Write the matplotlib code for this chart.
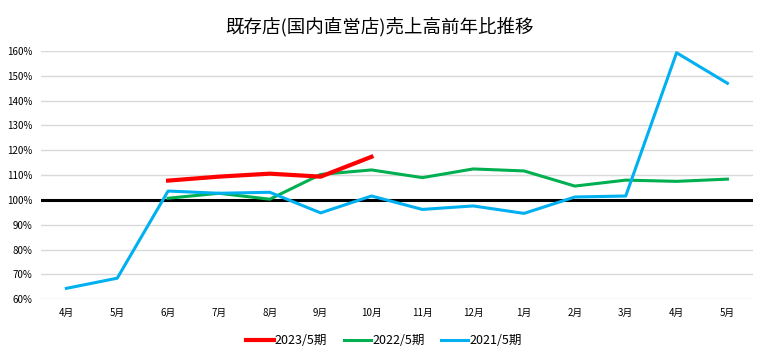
import numpy as np
import matplotlib.pyplot as plt

plt.rcParams['font.family'] = ['Noto Sans CJK JP', 'DejaVu Sans']

months = ['4月', '5月', '6月', '7月', '8月', '9月', '10月', '11月', '12月',
          '1月', '2月', '3月', '4月', '5月']
fy2023 = [None, None, 107.8, 109.4, 110.6, 109.4, 117.4,
          None, None, None, None, None, None, None]
fy2022 = [None, None, 100.7, 102.7, 100.3, 110.3, 112.1,
          109.0, 112.5, 111.7, 105.6, 108.0, 107.5, 108.4]
fy2021 = [64.4, 68.5, 103.6, 102.7, 103.1, 94.8, 101.6,
          96.2, 97.6, 94.6, 101.2, 101.6, 159.3, 147.0]
yticks = [60, 70, 80, 90, 100, 110, 120, 130, 140, 150, 160]

x = np.arange(len(months))

def arr(v):
    return np.array([np.nan if a is None else a for a in v], dtype=float)

fig = plt.figure(figsize=(7.63, 3.58), dpi=100)
ax = fig.add_axes([0.0537, 0.164, 0.933, 0.6935])

ax.plot(x, arr(fy2023), color='#FF0000', lw=3.0, label='2023/5期', zorder=4)
ax.plot(x, arr(fy2022), color='#00B050', lw=2.2, label='2022/5期', zorder=3)
ax.plot(x, arr(fy2021), color='#00B0F0', lw=2.2, label='2021/5期', zorder=3)
ax.axhline(100, xmin=0.0, xmax=0.997, color='black', lw=2.2, zorder=2)

ax.set_xlim(-0.5, len(months) - 0.5)
ax.set_ylim(60, 160)
ax.set_xticks(x)
ax.set_xticklabels(months, fontsize=7)
ax.set_yticks(yticks)
ax.set_yticklabels([f'{v}%' for v in yticks], fontsize=7)
ax.tick_params(length=0, pad=6)
ax.grid(axis='y', color='#d9d9d9', lw=1)
ax.set_axisbelow(True)
for s in ax.spines.values():
    s.set_visible(False)

ax.set_title('既存店(国内直営店)売上高前年比推移', fontsize=13.3, pad=13, x=0.476)
ax.legend(loc='upper center', bbox_to_anchor=(0.482, -0.095), ncol=3, frameon=False,
          fontsize=9, handlelength=2.2, handletextpad=0.1, columnspacing=1.3)

plt.savefig('out.png', dpi=100)
plt.close()
